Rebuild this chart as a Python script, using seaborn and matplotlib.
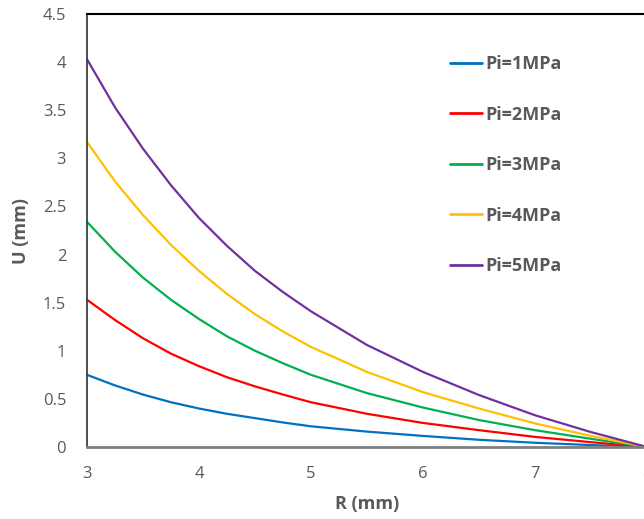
import matplotlib
matplotlib.use("Agg")
import matplotlib.pyplot as plt
import seaborn as sns
import pandas as pd

# Data
R = [3.0, 3.25, 3.5, 3.75, 4.0, 4.25, 4.5, 4.75, 5.0, 5.5, 6.0, 6.5, 7.0, 7.5, 8.0]
U_pi1 = [0.75, 0.64, 0.545, 0.465, 0.40, 0.345, 0.30, 0.255, 0.215, 0.16, 0.115, 0.075, 0.044, 0.02, 0.0]
U_pi2 = [1.53, 1.32, 1.13, 0.97, 0.84, 0.725, 0.63, 0.545, 0.465, 0.345, 0.25, 0.175, 0.105, 0.05, 0.0]
U_pi3 = [2.34, 2.03, 1.76, 1.53, 1.33, 1.15, 1.00, 0.87, 0.75, 0.56, 0.41, 0.28, 0.175, 0.085, 0.0]
U_pi4 = [3.17, 2.76, 2.41, 2.10, 1.83, 1.59, 1.38, 1.20, 1.04, 0.78, 0.57, 0.40, 0.245, 0.115, 0.0]
U_pi5 = [4.03, 3.53, 3.10, 2.72, 2.38, 2.09, 1.83, 1.61, 1.41, 1.06, 0.78, 0.54, 0.33, 0.155, 0.0]
series_names = ["Pi=1MPa", "Pi=2MPa", "Pi=3MPa", "Pi=4MPa", "Pi=5MPa"]
colors = ["#0070C0", "#FF0000", "#00B050", "#FFC000", "#7030A0"]
x_ticks = [3, 4, 5, 6, 7, 8]
y_ticks = [0, 0.5, 1, 1.5, 2, 2.5, 3, 3.5, 4, 4.5]
y_tick_labels = ["0", "0.5", "1", "1.5", "2", "2.5", "3", "3.5", "4", "4.5"]

rows = []
for name, vals in zip(series_names, [U_pi1, U_pi2, U_pi3, U_pi4, U_pi5]):
    for r, u in zip(R, vals):
        rows.append({"R": r, "U": u, "series": name})
df = pd.DataFrame(rows)

sns.set_theme(style="white")
plt.rcParams["font.family"] = ["Open Sans", "DejaVu Sans"]

fig = plt.figure(figsize=(6.44, 5.19), dpi=100)
W, H = 644, 519
ax = fig.add_axes([87 / W, (H - 447) / H, 560 / W, 433 / H])

sns.lineplot(data=df, x="R", y="U", hue="series", hue_order=series_names,
             palette=colors, linewidth=1.6, ax=ax, clip_on=False)

ax.set_xlim(3, 8)
ax.set_ylim(0, 4.5)
ax.set_xticks(x_ticks)
ax.set_xticklabels([str(t) for t in x_ticks])
ax.set_yticks(y_ticks)
ax.set_yticklabels(y_tick_labels)
ax.tick_params(axis="both", length=0, labelsize=12, labelcolor="#595959")
ax.tick_params(axis="y", pad=15)
ax.tick_params(axis="x", pad=14)

ax.set_xlabel("R (mm)", fontsize=13, fontweight="bold", color="#595959")
ax.set_ylabel("U (mm)", fontsize=13, fontweight="bold", color="#595959")
ax.xaxis.set_label_coords(0.5, -0.111)
ax.yaxis.set_label_coords(-0.102, 0.5)

ax.spines["top"].set_color("black")
ax.spines["top"].set_linewidth(1.5)
ax.spines["left"].set_color("#404040")
ax.spines["left"].set_linewidth(1.3)
ax.spines["bottom"].set_color("#7f7f7f")
ax.spines["bottom"].set_linewidth(2.0)
ax.spines["right"].set_visible(False)
ax.grid(False)

leg = ax.legend(loc="upper left", bbox_to_anchor=(0.648, 0.905), frameon=False,
                borderaxespad=0, borderpad=0, labelspacing=1.8,
                handlelength=1.78, handletextpad=0.18,
                prop={"size": 13, "weight": "bold"})
for t in leg.get_texts():
    t.set_color("#595959")
for h in leg.get_lines():
    h.set_linewidth(2.0)

fig.savefig("out.png", dpi=100)
